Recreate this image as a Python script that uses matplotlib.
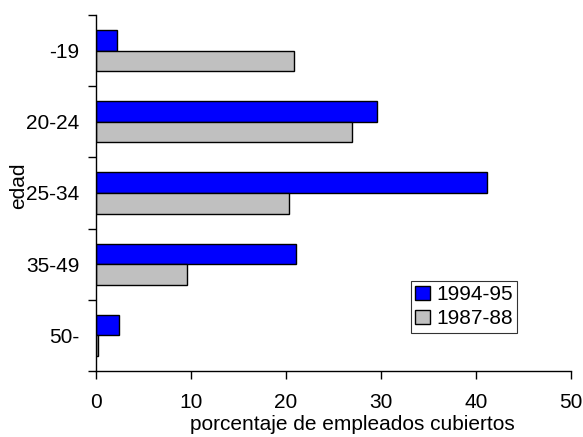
import matplotlib
matplotlib.use("Agg")
import matplotlib.pyplot as plt
import numpy as np

plt.rcParams['font.family'] = ['Liberation Sans', 'DejaVu Sans']

edades = ["-19", "20-24", "25-34", "35-49", "50-"]
serie_9495 = [2.2, 29.6, 41.2, 21.0, 2.4]
serie_8788 = [20.8, 26.9, 20.3, 9.6, 0.2]
xticks = [0, 10, 20, 30, 40, 50]

W, H = 583, 437
fs = 15
fig = plt.figure(figsize=(W / 100, H / 100), dpi=100)
ax = fig.add_axes([96 / W, 1 - 371 / H, 475 / W, 356 / H])

pos = np.arange(len(edades))
alto = 0.29
ax.barh(pos - alto / 2, serie_9495, height=alto, color="#0000ff",
        edgecolor="black", linewidth=1, label="1994-95")
ax.barh(pos + alto / 2, serie_8788, height=alto, color="#c0c0c0",
        edgecolor="black", linewidth=1, label="1987-88")

ax.set_xlim(0, 50)
ax.set_ylim(len(edades) - 0.5, -0.5)
ax.set_xticks(xticks)
ax.set_yticks(pos)
ax.set_yticklabels(edades)
ax.set_yticks(np.arange(len(edades) + 1) - 0.5, minor=True)

ax.spines['top'].set_visible(False)
ax.spines['right'].set_visible(False)
for s in ('left', 'bottom'):
    ax.spines[s].set_linewidth(1)

ax.tick_params(axis='x', direction='out', length=6, width=1, pad=10, labelsize=fs)
ax.tick_params(axis='y', which='major', length=0, pad=12, labelsize=fs)
ax.tick_params(axis='y', which='minor', direction='out', length=6, width=1)

fig.text(352 / W, 1 - 424 / H, "porcentaje de empleados cubiertos",
         ha='center', va='center', fontsize=fs)
fig.text(19 / W, 1 - 186 / H, "edad", rotation=90,
         ha='center', va='center', fontsize=fs)

leg = ax.legend(loc='upper left', bbox_to_anchor=(411 / W, 1 - 281 / H),
                bbox_transform=fig.transFigure, fontsize=fs,
                frameon=True, fancybox=False, shadow=False,
                handlelength=0.7, handleheight=0.7, handletextpad=0.3,
                borderpad=0.2, labelspacing=0.25, borderaxespad=0)
leg.get_frame().set_edgecolor("black")
leg.get_frame().set_linewidth(0.8)

fig.savefig("out.png", dpi=100)
